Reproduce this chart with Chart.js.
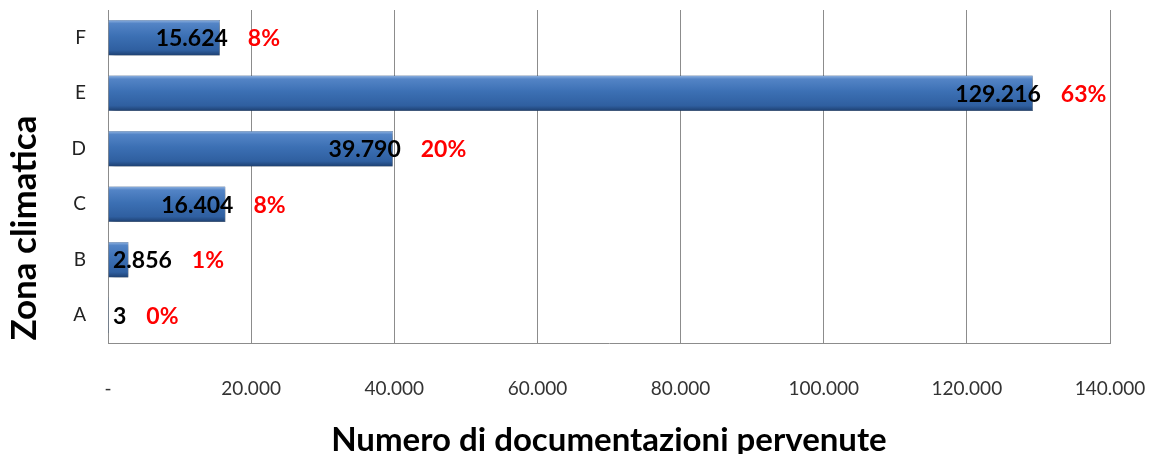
<!DOCTYPE html>
<html>
<head>
<meta charset="utf-8">
<script src="https://cdn.jsdelivr.net/npm/chart.js@4/dist/chart.umd.min.js"></script>
<style>
  html, body { margin: 0; padding: 0; background: #fff; }
  #wrap { width: 1156px; height: 454px; }
</style>
</head>
<body>
<div id="wrap"><canvas id="chart"></canvas></div>
<script>
/* Zona climatica — documentazioni pervenute */

const ZONES = ["A", "B", "C", "D", "E", "F"];
const DOCS = [3, 2856, 16404, 39790, 129216, 15624];
const SHARE = ["0%", "1%", "8%", "20%", "63%", "8%"];
const X_TICKS = [0, 20000, 40000, 60000, 80000, 100000, 120000, 140000];
const Y_TITLE = "Zona climatica";

const FONT = "Lato, 'Open Sans', sans-serif";

function itNum(v) {
  return String(Math.round(v)).replace(/\B(?=(\d{3})+(?!\d))/g, ".");
}

function barFill(ctx) {
  const chart = ctx.chart;
  const y = chart.scales.y;
  if (!y || ctx.dataIndex === undefined) return "#3a6fb0";
  const c = y.getPixelForValue(ctx.dataIndex);
  const h = (y.height / ZONES.length) * 0.64 / 2;
  if (!isFinite(c) || !isFinite(h) || h <= 0) return "#3a6fb0";
  const g = chart.ctx.createLinearGradient(0, c - h, 0, c + h);
  g.addColorStop(0, "#8fb2e0");
  g.addColorStop(0.1, "#5384c6");
  g.addColorStop(0.45, "#3c70b4");
  g.addColorStop(0.85, "#2f5fa0");
  g.addColorStop(1, "#1d3f70");
  return g;
}

const shadowPlugin = {
  id: "shadow",
  beforeDatasetsDraw(chart) {
    const c = chart.ctx;
    c.save();
    c.shadowColor = "rgba(0,0,0,0.35)";
    c.shadowBlur = 5;
    c.shadowOffsetX = 3;
    c.shadowOffsetY = 3;
  },
  afterDatasetsDraw(chart) {
    chart.ctx.restore();
  },
};

const labelPlugin = {
  id: "labels",
  afterDatasetsDraw(chart) {
    const c = chart.ctx;
    const meta = chart.getDatasetMeta(0);
    const left = chart.chartArea.left;
    c.save();
    c.textBaseline = "middle";
    c.textAlign = "left";
    c.font = "bold 23px " + FONT;
    meta.data.forEach((bar, i) => {
      const txt = itNum(DOCS[i]);
      const w = c.measureText(txt).width;
      let x = bar.x + 8 - w;
      if (x < left + 5) x = left + 5;
      c.fillStyle = "#000";
      c.fillText(txt, x, bar.y + 1);
      c.fillStyle = "#ff0000";
      c.fillText(SHARE[i], x + w + 20, bar.y + 1);
    });
    c.restore();
  },
};

// y title sits lower than the plot centre in the original, so draw it by hand
const yTitlePlugin = {
  id: "yTitle",
  afterDraw(chart) {
    const c = chart.ctx;
    c.save();
    c.translate(25, 228);
    c.rotate(-Math.PI / 2);
    c.textAlign = "center";
    c.textBaseline = "middle";
    c.fillStyle = "#000";
    c.font = "bold 35px " + FONT;
    c.fillText(Y_TITLE, 0, 0);
    c.restore();
  },
};

new Chart(document.getElementById("chart"), {
  type: "bar",
  data: {
    labels: ZONES,
    datasets: [{
      data: DOCS,
      backgroundColor: barFill,
      borderColor: "#1f4577",
      borderWidth: 0.5,
      barPercentage: 0.64,
      categoryPercentage: 1,
    }],
  },
  options: {
    indexAxis: "y",
    responsive: true,
    maintainAspectRatio: false,
    animation: false,
    layout: { padding: { top: 10, right: 46, bottom: 0, left: 0 } },
    plugins: { legend: { display: false }, tooltip: { enabled: false } },
    scales: {
      x: {
        min: 0,
        max: 140000,
        afterBuildTicks(axis) { axis.ticks = X_TICKS.map((v) => ({ value: v })); },
        afterFit(axis) { axis.height = 111; axis.paddingLeft = 0; axis.paddingRight = 0; },
        grid: { color: "#8c8c8c", lineWidth: 1, drawTicks: false },
        border: { display: true, color: "#8c8c8c" },
        ticks: {
          color: "#333",
          font: { family: FONT, size: 19, lineHeight: 1.2 },
          padding: 34,
          maxRotation: 0,
          callback: (v) => (v === 0 ? "-" : itNum(v)),
        },
        title: {
          display: true,
          text: "Numero di documentazioni pervenute",
          color: "#000",
          font: { family: FONT, size: 33, weight: "bold", lineHeight: 1 },
          padding: { top: 20, bottom: -3 },
        },
      },
      y: {
        reverse: true,
        afterFit(axis) { axis.width = 108; axis.paddingTop = 0; axis.paddingBottom = 0; },
        grid: { display: false, drawTicks: false },
        border: { display: true, color: "#8c8c8c" },
        ticks: { color: "#222", font: { family: FONT, size: 19 }, padding: 22 },
        title: { display: false },
      },
    },
  },
  plugins: [shadowPlugin, labelPlugin, yTitlePlugin],
});
</script>
</body>
</html>
